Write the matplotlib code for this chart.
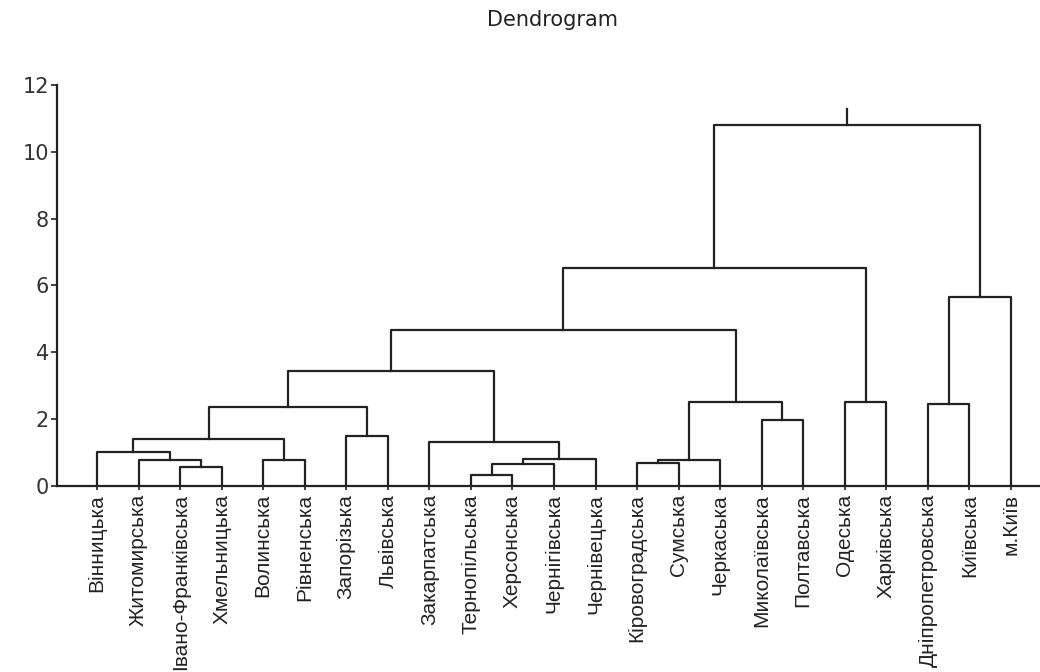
import matplotlib
matplotlib.use('Agg')
import matplotlib.pyplot as plt
import numpy as np

# leaves in the order they appear along the x axis
leaves = ['Вінницька', 'Житомирська', 'Івано-Франківська', 'Хмельницька',
          'Волинська', 'Рівненська', 'Запорізька', 'Львівська',
          'Закарпатська', 'Тернопільська', 'Херсонська', 'Чернігівська',
          'Чернівецька', 'Кіровоградська', 'Сумська', 'Черкаська',
          'Миколаївська', 'Полтавська', 'Одеська', 'Харківська',
          'Дніпропетровська', 'Київська', 'м.Київ']

# merges: (left cluster, right cluster); leaves are 0..22, new clusters 23, 24, ...
merge_left = [9, 2, 23, 13, 4, 26, 1, 25, 0, 8, 31, 6, 16, 33, 20, 28, 18, 36, 40, 37, 41, 43]
merge_right = [10, 3, 11, 14, 5, 15, 24, 12, 29, 30, 27, 7, 17, 34, 21, 35, 19, 32, 38, 22, 39, 42]
merge_height = [0.33, 0.57, 0.66, 0.68, 0.76, 0.76, 0.78, 0.81, 1.02, 1.30,
                1.41, 1.48, 1.96, 2.37, 2.45, 2.50, 2.50, 3.45, 4.67, 5.65,
                6.53, 10.81]
root_top = 11.29  # little stub on top of the last merge

fig = plt.figure(figsize=(10.4, 6.72), dpi=100)
ax = fig.add_axes([0.055, 0.277, 0.945, 0.5965])

n = len(leaves)
xpos = {i: float(i) for i in range(n)}
ypos = {i: 0.0 for i in range(n)}
line_kw = dict(color='#222222', lw=1.6, solid_capstyle='projecting')

for k, (a, b, h) in enumerate(zip(merge_left, merge_right, merge_height)):
    xa, xb = xpos[a], xpos[b]
    ax.plot([xa, xa, xb, xb], [ypos[a], h, h, ypos[b]], **line_kw)
    xpos[n + k] = (xa + xb) / 2.0
    ypos[n + k] = h

root = n + len(merge_height) - 1
ax.plot([xpos[root], xpos[root]], [ypos[root], root_top], **line_kw)

ax.set_xlim(-0.96, 22.7)
ax.set_ylim(0, 12)
ax.set_yticks(np.arange(0, 13, 2))
ax.set_xticks(np.arange(n))
ax.set_xticklabels(leaves, rotation=90, va='top', ha='center',
                   family='Liberation Sans', fontsize=15, color='#222222')

ax.spines['top'].set_visible(False)
ax.spines['right'].set_visible(False)
for s in ['left', 'bottom']:
    ax.spines[s].set_linewidth(1.6)
    ax.spines[s].set_color('#222222')
ax.tick_params(axis='x', length=3, width=1.2, pad=3, color='#222222')
ax.tick_params(axis='y', length=4, width=1.2, pad=2, color='#222222',
               labelsize=15, labelcolor='#333333')

fig.text(0.531, 0.97, 'Dendrogram', ha='center', va='center', fontsize=15,
         color='#222222', family='DejaVu Sans')

fig.savefig('out.png', dpi=100)
